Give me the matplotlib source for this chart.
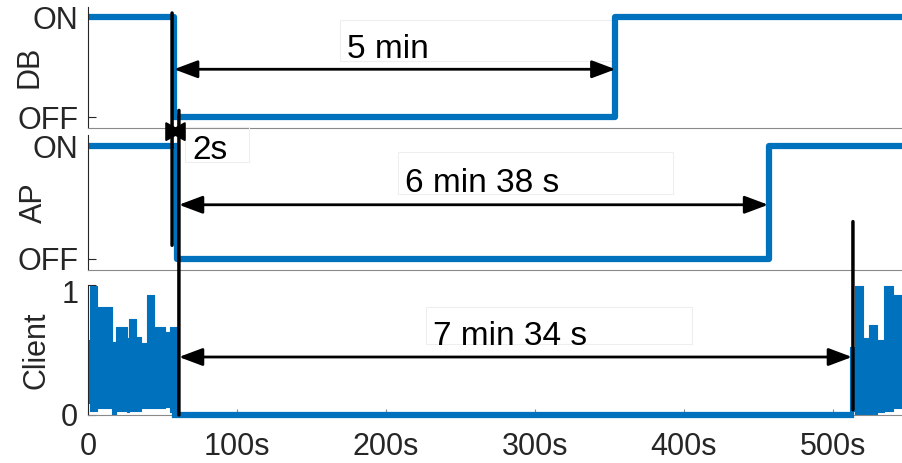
import matplotlib
matplotlib.use("Agg")
import matplotlib.pyplot as plt
from matplotlib.patches import Rectangle, ConnectionPatch
import matplotlib.transforms as mtransforms
import numpy as np

plt.rcParams['font.family'] = ['Liberation Sans', 'DejaVu Sans']

# ---------------- data ----------------
xlim_max = 547
x_ticks = [0, 100, 200, 300, 400, 500]
x_tick_labels = ['0', '100s', '200s', '300s', '400s', '500s']
state_labels = ['OFF', 'ON']

db_t = [0, 57.5, 354, 547]
db_state = [1, 0, 1, 1]

ap_t = [0, 59.5, 457, 547]
ap_state = [1, 0, 1, 1]

# client activity: envelope of the dense signal, piecewise (step) segments
client1_t = [0, 1.3, 6.3, 15.9, 18.8, 26, 27.5, 32.2, 35.3, 39.4, 44.3, 51.7, 55, 59.5]
client1_hi = [0.58, 0.99, 0.83, 0.56, 0.68, 0.59, 0.74, 0.60, 0.55, 0.92, 0.68, 0.64, 0.68]
client1_lo = [0.09, 0.03, 0.05, 0.00, 0.03, 0.02, 0.03, 0.03, 0.05, 0.05, 0.05, 0.06, 0.02]
client_idle_t = [58.5, 512]
client_idle_v = [0, 0]
client2_t = [511.4, 514.8, 520, 524, 529.5, 534, 540.5, 547]
client2_hi = [0.52, 0.99, 0.59, 0.69, 0.58, 0.99, 0.92]
client2_lo = [0.03, 0.01, 0.01, 0.01, 0.02, 0.03, 0.05]

# annotated durations
db_span = (57.7, 354)
ap_span = (61, 456.5)
client_span = (61, 512.8)
labels = ['5 min', '6 min 38 s', '7 min 34 s', '2s']

# marker lines
lineA_t = 56.4
lineB_t = 61
lineC_t = 513.4

# ---------------- figure ----------------
blue = '#0072BD'
W, H = 903, 463
fig = plt.figure(figsize=(W / 100, H / 100), dpi=100)
ax1 = fig.add_axes([0.0975, 0.7246, 0.9025, 0.2603])
ax2 = fig.add_axes([0.0975, 0.4168, 0.9025, 0.2916])
ax3 = fig.add_axes([0.0975, 0.1037, 0.9025, 0.2808])

tick_col = '#262626'
for ax in (ax1, ax2, ax3):
    ax.set_xlim(0, xlim_max)
    ax.spines['top'].set_visible(False)
    ax.spines['right'].set_visible(False)
    ax.spines['left'].set_color('#262626')
    ax.spines['bottom'].set_color('#8a8a8a')
    ax.spines['left'].set_linewidth(0.8)
    ax.spines['bottom'].set_linewidth(0.8)
    ax.tick_params(axis='y', direction='in', length=6, width=0.8, colors=tick_col,
                   labelsize=22, pad=7)
    ax.tick_params(axis='x', direction='in', length=4, width=0.8, colors='#8a8a8a',
                   labelcolor=tick_col, labelsize=22, pad=12)

for ax in (ax1, ax2):
    ax.set_ylim(-0.1, 1.1)
    ax.set_yticks([0, 1])
    ax.set_yticklabels(state_labels)
    ax.set_xticks([])

ax3.set_ylim(0, 1)
ax3.set_yticks([0, 1])
ax3.set_yticklabels(['0', '1'])
ax3.set_xticks(x_ticks)
ax3.set_xticklabels(x_tick_labels)
# nudge the "1" label down a little so it clears "OFF" above
lab1 = ax3.get_yticklabels()[1]
lab1.set_transform(lab1.get_transform() +
                   mtransforms.ScaledTranslation(0, -5 / 72, fig.dpi_scale_trans))

ax1.step(db_t, db_state, where='post', color=blue, lw=4.5)
ax2.step(ap_t, ap_state, where='post', color=blue, lw=4.5)


def step_fill(ax, t, lo, hi):
    t = np.asarray(t, float)
    xs = np.repeat(t, 2)[1:-1]
    ys_lo = np.repeat(np.asarray(lo, float), 2)
    ys_hi = np.repeat(np.asarray(hi, float), 2)
    ax.fill_between(xs, ys_lo, ys_hi, facecolor=blue, edgecolor=blue, lw=0.8, zorder=2)


step_fill(ax3, client1_t, client1_lo, client1_hi)
step_fill(ax3, client2_t, client2_lo, client2_hi)
ax3.plot(client_idle_t, client_idle_v, color=blue, lw=4.5, clip_on=False, zorder=3)

for ax, name, xc in ((ax1, 'DB', -0.0718), (ax2, 'AP', -0.0669), (ax3, 'Client', -0.0632)):
    ax.set_ylabel(name, fontsize=22, color=tick_col, va='center')
    ax.yaxis.set_label_coords(xc, 0.5)

# arrows
aprops = dict(arrowstyle='<|-|>,head_length=1.2,head_width=0.45', color='black',
              lw=2, shrinkA=0, shrinkB=0, mutation_scale=12)
ax1.annotate('', xy=(db_span[1], 0.48), xytext=(db_span[0], 0.48), arrowprops=aprops)
ax2.annotate('', xy=(ap_span[1], 0.48), xytext=(ap_span[0], 0.48), arrowprops=aprops)
ax3.annotate('', xy=(client_span[1], 0.446), xytext=(client_span[0], 0.446), arrowprops=aprops)
sprops = dict(arrowstyle='<|-|>,head_length=0.9,head_width=0.5', color='black',
              lw=1.5, shrinkA=0, shrinkB=0, mutation_scale=12)
ax2.annotate('', xy=(lineB_t + 3, 1.13), xytext=(lineA_t - 3, 1.13), arrowprops=sprops,
             annotation_clip=False)

# text boxes
box_kw = dict(facecolor='none', edgecolor='#eeeeee', lw=0.8, clip_on=False)
ax1.add_patch(Rectangle((169.1, 0.56), 352.3 - 169.1, 0.97 - 0.56, **box_kw))
ax1.text(173.8, 0.59, labels[0], fontsize=24, va='baseline', ha='left')
ax2.add_patch(Rectangle((208, 0.579), 392.6 - 208, 0.949 - 0.579, **box_kw))
ax2.text(212.8, 0.597, labels[1], fontsize=24, va='baseline', ha='left')
ax3.add_patch(Rectangle((226.8, 0.546), 405.4 - 226.8, 0.831 - 0.546, **box_kw))
ax3.text(231.5, 0.538, labels[2], fontsize=24, va='baseline', ha='left')
ax2.add_patch(Rectangle((65.1, 0.859), 108 - 65.1, 1.174 - 0.859, **box_kw))
ax2.text(69.8, 0.886, labels[3], fontsize=24, va='baseline', ha='left', clip_on=False)

# vertical marker lines across panels
for (t, axA, yA, axB, yB) in ((lineA_t, ax1, 1.04, ax2, 0.12),
                              (lineB_t, ax1, 0.07, ax3, 0.0),
                              (lineC_t, ax2, 0.33, ax3, 0.04)):
    cp = ConnectionPatch(xyA=(t, yA), coordsA=axA.transData,
                         xyB=(t, yB), coordsB=axB.transData,
                         color='black', lw=2.5)
    cp.set_zorder(10)
    fig.add_artist(cp)

fig.savefig('out.png', dpi=100)
